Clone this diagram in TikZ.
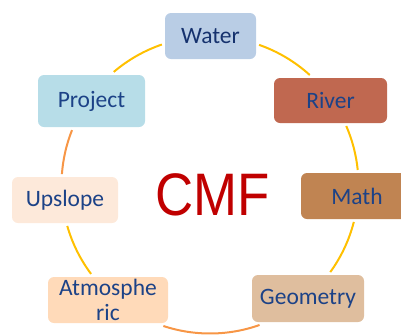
\documentclass[tikz,border=0pt]{standalone}
\usepackage{fontspec}
\setmainfont{Carlito}
\newfontfamily\cmffont{Liberation Sans}
\definecolor{ctext}{RGB}{28,66,135}
\definecolor{ctextdark}{RGB}{22,50,110}
\definecolor{cyel}{RGB}{255,192,0}
\definecolor{corg}{RGB}{247,150,70}
\definecolor{cwater}{RGB}{185,205,229}
\definecolor{criver}{RGB}{192,104,80}
\definecolor{cmath}{RGB}{192,132,82}
\definecolor{cgeom}{RGB}{223,190,158}
\definecolor{catmo}{RGB}{255,218,185}
\definecolor{cup}{RGB}{253,233,218}
\definecolor{cproj}{RGB}{183,221,232}
\definecolor{cmfred}{RGB}{192,0,0}
\begin{document}
\begin{tikzpicture}[x=1pt,y=-1pt,
  box/.style={rounded corners=6pt, inner sep=0pt, text=ctext, align=center,
    font=\fontsize{23.5}{25.5}\selectfont},
  ring/.style={line width=2pt},
  yel/.style={ring, draw=cyel},
  org/.style={ring, draw=corg}]
\useasboundingbox (0,0) rectangle (401,335);
\coordinate (c) at (210,185);
% arcs
\draw[yel] ([shift={(70.7:148.5pt)}]c) arc[start angle=70.7, end angle=47.8, radius=148.5pt];
\draw[yel] ([shift={(23.4:148.5pt)}]c) arc[start angle=23.4, end angle=5.8, radius=148.5pt];
\draw[yel] ([shift={(-14.4:148.5pt)}]c) arc[start angle=-14.4, end angle=-35.9, radius=148.5pt];
\draw[org] ([shift={(-70.5:148.5pt)}]c) arc[start angle=-70.5, end angle=-108.3, radius=148.5pt];
\draw[yel] ([shift={(-143.2:148.5pt)}]c) arc[start angle=-143.2, end angle=-164.0, radius=148.5pt];
\draw[org] ([shift={(175.8:148.5pt)}]c) arc[start angle=175.8, end angle=158.3, radius=148.5pt];
\draw[yel] ([shift={(130.4:148.5pt)}]c) arc[start angle=130.4, end angle=108.9, radius=148.5pt];
% boxes
\node[box, fill=cwater, text=ctextdark, minimum width=91pt, minimum height=46pt] (water) at (210.5,36) {Water};
\node[box, fill=criver, minimum width=113pt, minimum height=45pt] (river) at (330.5,100.5) {River};
\node[box, fill=cmath, minimum width=112pt, minimum height=46pt] (math) at (357,196) {Math};
\node[box, fill=cgeom, minimum width=112pt, minimum height=47pt] (geom) at (308,298.5) {Geometry};
\node[box, fill=catmo, minimum width=120pt, minimum height=46pt] (atmo) at (108,300) {Atmosphe\\ric};
\node[box, fill=cup, minimum width=106pt, minimum height=46pt] (up) at (65,200) {Upslope};
\node[box, fill=cproj, minimum width=107pt, minimum height=52pt] (proj) at (91.5,101) {Project};
\node[anchor=base, inner sep=0pt, text=cmfred, font=\cmffont\fontsize{60}{60}\selectfont] (cmf) at (213,215) {\scalebox{0.88}[1]{CMF}};
\end{tikzpicture}
\end{document}
